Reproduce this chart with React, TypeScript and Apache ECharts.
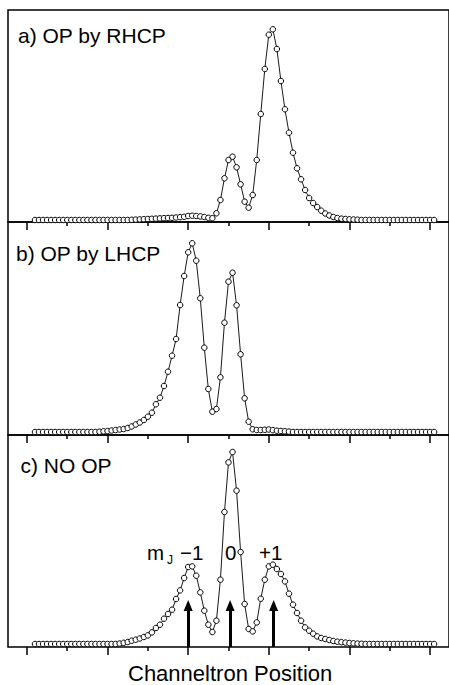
import React, { useEffect, useRef } from "react";
import * as echarts from "echarts";

// Channel positions (x) of the sampled points
const CHANNELS = [
  2, 3, 4, 5, 6, 7, 8, 9, 10, 11, 12, 13, 14, 15, 16, 17, 18, 19, 20, 21,
  22, 23, 24, 25, 26, 27, 28, 29, 30, 31, 32, 33, 34, 35, 36, 37, 38, 39, 40, 41,
  42, 43, 44, 45, 46, 47, 48, 49, 50, 51, 52, 53, 54, 55, 56, 57, 58, 59, 60, 61,
  62, 63, 64, 65, 66, 67, 68, 69, 70, 71, 72, 73, 74, 75, 76, 77, 78, 79, 80, 81,
  82, 83, 84, 85, 86, 87, 88, 89, 90, 91, 92, 93, 94, 95, 96, 97, 98, 99, 100, 101,
];

// a) OP by RHCP
const RHCP = [
  2, 2, 2, 2, 2, 2, 2, 2, 2, 2, 2, 2, 2, 2, 2, 2, 2, 2, 2, 2, 2, 2, 2, 2,
  2.2, 2.4, 2.6, 2.8, 3, 3.2, 3.4, 3.6, 3.8, 4, 4.2, 4.5, 4.8, 5.2, 6, 6.3, 6, 5.6, 5, 4.2, 3.8,
  8.7, 22, 43.7, 62, 65.3, 54.7, 37.7, 20.3, 14.3, 27, 62, 108, 153, 187.3, 192.7, 173, 141,
  112.7, 89.3, 69.3, 53.7, 42.7, 32, 24, 19, 15, 11.3, 8.5, 6.5, 5, 4, 3.3, 3, 2.7, 2.5, 2.3,
  2, 2, 2, 2, 2, 2, 2, 2, 2, 2, 2, 2, 2, 2, 2, 2, 2, 2, 2,
];

// b) OP by LHCP
const LHCP = [
  3, 3, 3, 3, 3, 3, 3, 3, 3, 3, 3, 3, 3, 3, 3, 3,
  3.3, 3.7, 4, 4.5, 5, 5.5, 6, 7, 8.5, 10.5, 12.5, 15, 18.3, 22.3, 30.7, 37.3, 49, 63.3, 79.3,
  96, 130, 159, 182.7, 191.7, 174.3, 136.7, 87.3, 46, 23.3, 26, 57.7, 112.3, 153.3, 162.3,
  129.7, 80.7, 36.7, 13.3, 5.7, 5, 5, 5.2, 5.5, 4.8, 4.3, 4, 3.7, 3.4,
  3, 3, 3, 3, 3, 3, 3, 3, 3, 3, 3, 3, 3, 3, 3, 3, 3, 3, 3, 3, 3, 3, 3, 3, 3, 3, 3, 3, 3, 3,
  3, 3, 3, 3, 3, 3,
];

// c) NO OP
const NOOP = [
  3, 3, 3, 3, 3, 3, 3, 3, 3, 3, 3, 3, 3, 3, 3, 3, 3, 3, 3, 3, 3,
  3.5, 4.2, 5, 6.3, 7.3, 8.5, 10, 11.6, 14.6, 19, 22.3, 28.3, 33, 37.3, 48, 56.6, 69, 80, 80.6,
  71.3, 54.6, 36.3, 22.3, 15, 26.3, 67.3, 135, 184.6, 195, 156.3, 95, 43, 18, 15.6, 24.6, 48.3,
  67.3, 80.6, 82.3, 78, 73, 65.6, 53.3, 42.3, 34, 26.3, 19.6, 16.3, 13.3, 10.6, 9, 8, 7, 6,
  5.3, 4.8, 4.4, 4, 3.7, 3.4, 3.2,
  3, 3, 3, 3, 3, 3, 3, 3, 3, 3, 3, 3, 3, 3, 3, 3, 3, 3,
];

const PANEL_TITLES = ["a) OP by RHCP", "b) OP by LHCP", "c) NO OP"];
const MAJOR_TICKS = [0, 20, 40, 60, 80, 100];
const MINOR_TICKS = [10, 30, 50, 70, 90];
const ARROW_X = [40, 50.4, 61.2];
const ARROW_TIP = 47;
const ARROW_LABELS = ["−1", "0", "+1"];
const X_TITLE = "Channeltron Position";

const FONT = "'Liberation Sans', Arial, sans-serif";

export default function App() {
  const ref = useRef<HTMLDivElement>(null);

  useEffect(() => {
    if (!ref.current) return;
    const chart = echarts.init(ref.current, undefined, { renderer: "svg" });

    const XMIN = -4.69;
    const XMAX = 104.69;
    const grids = [
      { top: 10, height: 212, ymax: 212 },
      { top: 222, height: 213, ymax: 213 },
      { top: 435, height: 212, ymax: 212 },
    ];
    const seriesData = [RHCP, LHCP, NOOP];

    const xAxes: any[] = [];
    grids.forEach((_, g) => {
      [
        { ticks: MAJOR_TICKS, len: 8 },
        { ticks: MINOR_TICKS, len: 4 },
      ].forEach((t) => {
        xAxes.push({
          gridIndex: g,
          type: "value",
          min: XMIN,
          max: XMAX,
          position: "bottom",
          axisLine: { show: false },
          axisLabel: { show: false },
          splitLine: { show: false },
          axisTick: {
            show: true,
            inside: false,
            length: t.len,
            customValues: t.ticks,
            lineStyle: { color: "#000", width: 1.5 },
          },
        });
      });
    });

    const headLen = 11;
    const series: any[] = seriesData.map((vals, g) => {
      const s: any = {
        type: "line",
        xAxisIndex: g * 2,
        yAxisIndex: g,
        data: CHANNELS.map((x, i) => [x, vals[i]]),
        symbol: "circle",
        symbolSize: 5.5,
        showAllSymbol: true,
        clip: false,
        itemStyle: { color: "#fff", borderColor: "#000", borderWidth: 1 },
        lineStyle: { color: "#000", width: 0.9 },
        emphasis: { disabled: true },
        z: 3,
      };
      if (g === 2) {
        s.markLine = {
          silent: true,
          symbol: ["none", "triangle"],
          symbolSize: [9, headLen],
          lineStyle: { color: "#000", width: 3, type: "solid" },
          label: { show: false },
          emphasis: { disabled: true },
          z: 1,
          data: ARROW_X.map((x) => [
            { coord: [x, 0] },
            { coord: [x, ARROW_TIP - headLen / 2] },
          ]),
        };
      }
      return s;
    });

    const titleY = [44.5, 262, 474.5];
    const titleX = [18, 16, 20.5];
    const graphics: any[] = PANEL_TITLES.map((t, i) => ({
      type: "text",
      left: titleX[i],
      top: titleY[i] - 0.905 * 21,
      style: { text: t, font: `21px ${FONT}`, fill: "#000" },
    }));

    graphics.push(
      {
        type: "text",
        left: 147,
        top: 561 - 0.905 * 20.5,
        style: { text: "m", font: `20.5px ${FONT}`, fill: "#000" },
      },
      {
        type: "text",
        left: 167,
        top: 564.5 - 0.905 * 12,
        style: { text: "J", font: `12px ${FONT}`, fill: "#000" },
      },
      {
        type: "text",
        left: 180,
        top: 561 - 0.905 * 20.5,
        style: { text: ARROW_LABELS[0], font: `20.5px ${FONT}`, fill: "#000" },
      },
      {
        type: "text",
        left: 225,
        top: 561 - 0.905 * 20.5,
        style: { text: ARROW_LABELS[1], font: `20.5px ${FONT}`, fill: "#000" },
      },
      {
        type: "text",
        left: 259,
        top: 561 - 0.905 * 20.5,
        style: { text: ARROW_LABELS[2], font: `20.5px ${FONT}`, fill: "#000" },
      },
      {
        type: "text",
        left: 128,
        top: 682 - 0.905 * 22,
        style: { text: X_TITLE, font: `22px ${FONT}`, fill: "#000" },
      }
    );

    chart.setOption({
      animation: false,
      backgroundColor: "#fff",
      grid: grids.map((g) => ({
        left: 8,
        width: 443,
        top: g.top,
        height: g.height,
        show: true,
        borderColor: "#000",
        borderWidth: 1.5,
        containLabel: false,
      })),
      xAxis: xAxes,
      yAxis: grids.map((g, i) => ({
        gridIndex: i,
        type: "value",
        min: 0,
        max: g.ymax,
        show: false,
      })),
      series,
      graphic: graphics,
    });

    return () => chart.dispose();
  }, []);

  return (
    <div
      ref={ref}
      style={{ position: "absolute", left: 0, top: 0, width: 449, height: 685 }}
    />
  );
}
